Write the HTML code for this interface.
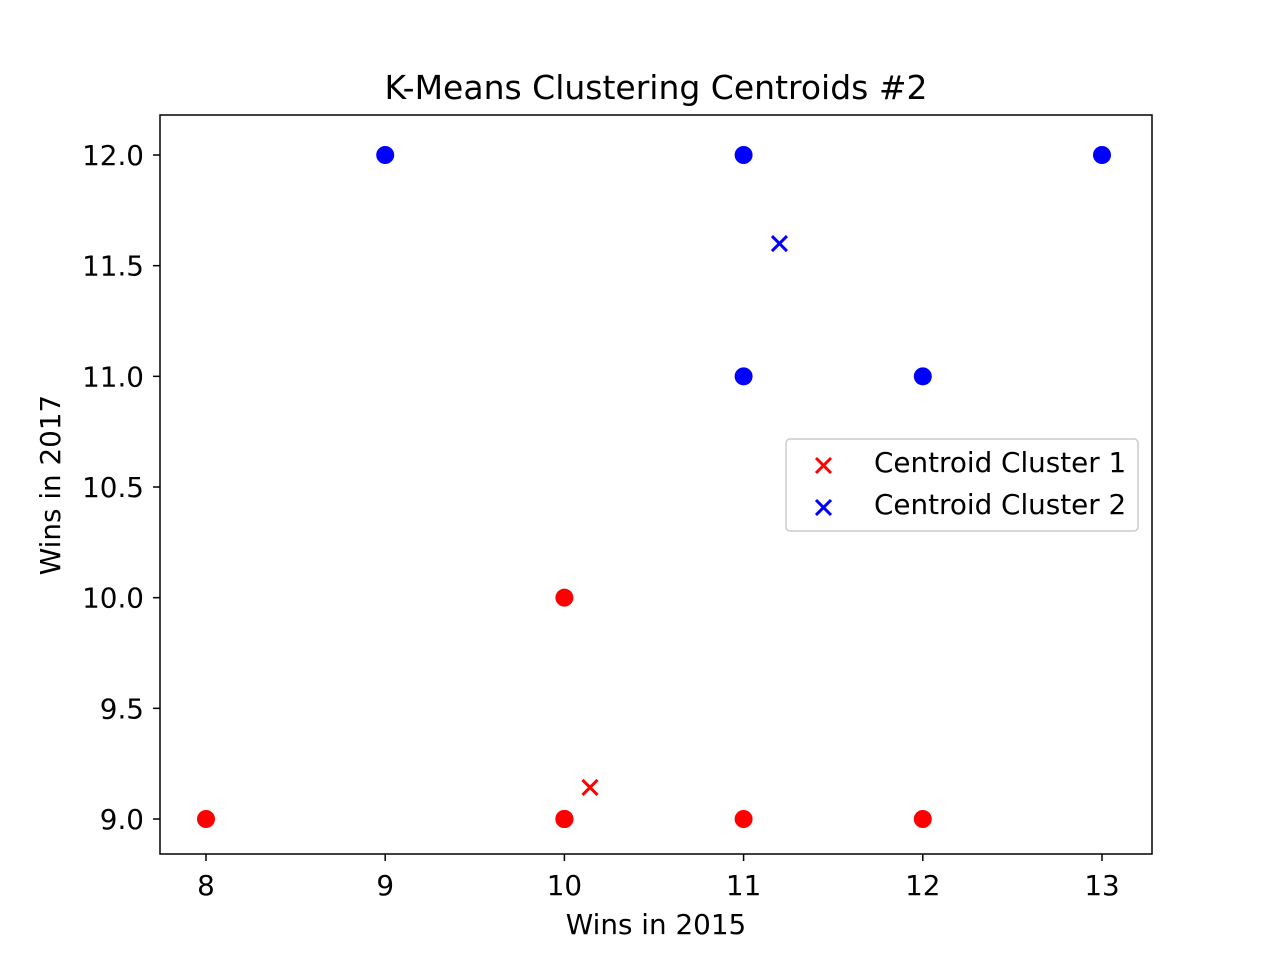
<!DOCTYPE html>
<html><head><meta charset="utf-8"><style>
body{margin:0;background:#fff;}
svg text{font-family:"DejaVu Sans","Liberation Sans",sans-serif;fill:#000;}
</style></head><body>
<svg id="chart" width="1280" height="960" xmlns="http://www.w3.org/2000/svg">
<rect x="0" y="0" width="1280" height="960" fill="#fff"/>
<text x="656" y="99" style="font-size:33px" text-anchor="middle">K-Means Clustering Centroids #2</text>
<g id="plot"></g>
<rect x="160" y="115" width="992" height="739" fill="none" stroke="#000" stroke-width="1.5"/>
<text x="656" y="934" style="font-size:27.8px" text-anchor="middle">Wins in 2015</text>
<text transform="translate(60,485) rotate(-90)" style="font-size:27.8px" text-anchor="middle">Wins in 2017</text>
<g>
<rect x="786" y="439" width="352" height="92" rx="4" fill="#fff" fill-opacity="0.8" stroke="#ccc" stroke-width="1.5"/>
<g>
<path d="M816,458 L831,473 M831,458 L816,473" stroke="#f00" stroke-width="3"/>
<text x="874" y="472" style="font-size:27.8px">Centroid Cluster 1</text></g>
<g>
<path d="M816,500 L831,515 M831,500 L816,515" stroke="#00f" stroke-width="3"/>
<text x="874" y="514" style="font-size:27.8px">Centroid Cluster 2</text></g>
</g>
</svg>
<script>
const xTicks=[8,9,10,11,12,13];
const yTicks=[9.0,9.5,10.0,10.5,11.0,11.5,12.0];
const redX=[8,10,10,10,10,11,12];
const redY=[9,10,9,9,9,9,9];
const blueX=[9,11,13,11,12];
const blueY=[12,12,12,11,11];
const centroidX=[10.142857,11.2];
const centroidY=[9.142857,11.6];
const centroidColors=['#f00','#00f'];
const sx=v=>206+(v-8)*179.2;
const sy=v=>819-(v-9)*221.333;
const NS='http://www.w3.org/2000/svg';
const g=document.getElementById('plot');
function mk(t,a){const e=document.createElementNS(NS,t);for(const k in a)e.setAttribute(k,a[k]);g.appendChild(e);return e;}
xTicks.forEach(v=>{
 const l=mk('line',{x1:sx(v),x2:sx(v),y1:854,y2:861,stroke:'#000','stroke-width':1.5});
 
 
 const t=mk('text',{x:sx(v),y:895,style:'font-size:27.8px','text-anchor':'middle'});t.textContent=v;
 
 
});
yTicks.forEach(v=>{
 const l=mk('line',{x1:153,x2:160,y1:sy(v),y2:sy(v),stroke:'#000','stroke-width':1.5});
 
 
 const t=mk('text',{x:144,y:sy(v)+10,style:'font-size:27.8px','text-anchor':'end'});t.textContent=v.toFixed(1);
 
 
});
redX.forEach((v,i)=>{
 const c=mk('circle',{cx:sx(v),cy:sy(redY[i]),r:9,fill:'#f00'});
 
 
});
blueX.forEach((v,i)=>{
 const c=mk('circle',{cx:sx(v),cy:sy(blueY[i]),r:9,fill:'#00f'});
 
 
});
centroidX.forEach((v,i)=>{
 const x=sx(v),y=sy(centroidY[i]);
 const p=mk('path',{d:`M${x-7.5},${y-7.5}L${x+7.5},${y+7.5}M${x+7.5},${y-7.5}L${x-7.5},${y+7.5}`,stroke:centroidColors[i],'stroke-width':3});
 
 
});
</script>
</body></html>
